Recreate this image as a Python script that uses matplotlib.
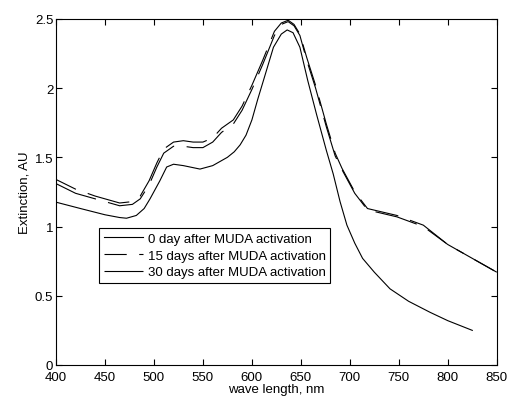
import numpy as np
import matplotlib.pyplot as plt

plt.rcParams['font.family'] = ['Liberation Sans', 'DejaVu Sans']
plt.rcParams['lines.scale_dashes'] = False

# 0 day after MUDA activation
wl_0 = [400, 425, 450, 465, 472, 482, 490, 496, 506, 513, 520, 530, 547, 560, 575,
        582, 588, 594, 600, 606, 612, 622, 630, 636, 642, 649, 657, 666, 676, 683, 690,
        697, 705, 713, 725, 741, 760, 782, 800, 825]
ext_0 = [1.176, 1.13, 1.085, 1.065, 1.06, 1.08, 1.13, 1.20, 1.33, 1.43, 1.45, 1.44,
         1.415, 1.44, 1.50, 1.54, 1.59, 1.66, 1.77, 1.92, 2.06, 2.295, 2.39, 2.42,
         2.40, 2.295, 2.055, 1.81, 1.55, 1.38, 1.18, 1.01, 0.88, 0.77, 0.67, 0.55,
         0.46, 0.38, 0.32, 0.25]

# 15 / 30 days after MUDA activation
wl_up = [400, 420, 440, 465, 478, 486, 495, 503, 510, 520, 530, 540, 550, 560, 569,
         581, 590, 600, 611, 623, 630, 637, 643, 649, 656, 665, 676, 685, 692, 705,
         718, 730, 748, 775, 800, 825, 850]
ext_15 = [1.34, 1.27, 1.22, 1.17, 1.18, 1.22, 1.33, 1.46, 1.56, 1.61, 1.62, 1.61,
          1.61, 1.64, 1.71, 1.77, 1.87, 2.02, 2.20, 2.41, 2.47, 2.49, 2.46, 2.39,
          2.22, 2.02, 1.74, 1.53, 1.42, 1.25, 1.13, 1.11, 1.08, 1.01, 0.87, 0.77, 0.67]
ext_30 = [1.31, 1.24, 1.20, 1.15, 1.16, 1.20, 1.30, 1.43, 1.53, 1.58, 1.58, 1.57,
          1.57, 1.61, 1.68, 1.74, 1.84, 1.99, 2.17, 2.38, 2.46, 2.48, 2.45, 2.38,
          2.20, 2.00, 1.72, 1.51, 1.41, 1.24, 1.12, 1.10, 1.07, 1.00, 0.87, 0.77, 0.67]

labels = ['0 day after MUDA activation', '15 days after MUDA activation',
          '30 days after MUDA activation']

fig = plt.figure(figsize=(5.09, 4.02), dpi=100)
ax = fig.add_axes([0.110, 0.0896, 0.866, 0.861])

ax.plot(wl_0, ext_0, color='black', lw=0.8, label=labels[0])
ax.plot(wl_up, ext_15, color='black', lw=0.8, linestyle=(15, (31, 9)), label=labels[1])
ax.plot(wl_up, ext_30, color='black', lw=0.8, linestyle=(0, (31, 9)), label=labels[2])

ax.set_xlim(400, 850)
ax.set_ylim(0, 2.5)
ax.set_xticks(np.arange(400, 851, 50))
ax.set_yticks([0, 0.5, 1, 1.5, 2, 2.5])
ax.set_yticklabels(['0', '0.5', '1', '1.5', '2', '2.5'])
ax.tick_params(direction='in', top=True, right=True, length=4, labelsize=9.5)
ax.tick_params(axis='x', pad=4)
ax.tick_params(axis='y', pad=2)
for s in ax.spines.values():
    s.set_linewidth(0.8)
ax.set_xlabel('wave length, nm', fontsize=9.5, labelpad=0)
ax.set_ylabel('Extinction, AU', fontsize=9.5, labelpad=3)

leg = ax.legend(loc='upper left', bbox_to_anchor=(0.0975, 0.396), borderaxespad=0,
                fontsize=9.5, fancybox=False, edgecolor='black', framealpha=1,
                handlelength=2.95, handletextpad=0.4, labelspacing=0.35,
                borderpad=0.35)
leg.get_frame().set_linewidth(0.8)

plt.savefig('out.png', dpi=100)
